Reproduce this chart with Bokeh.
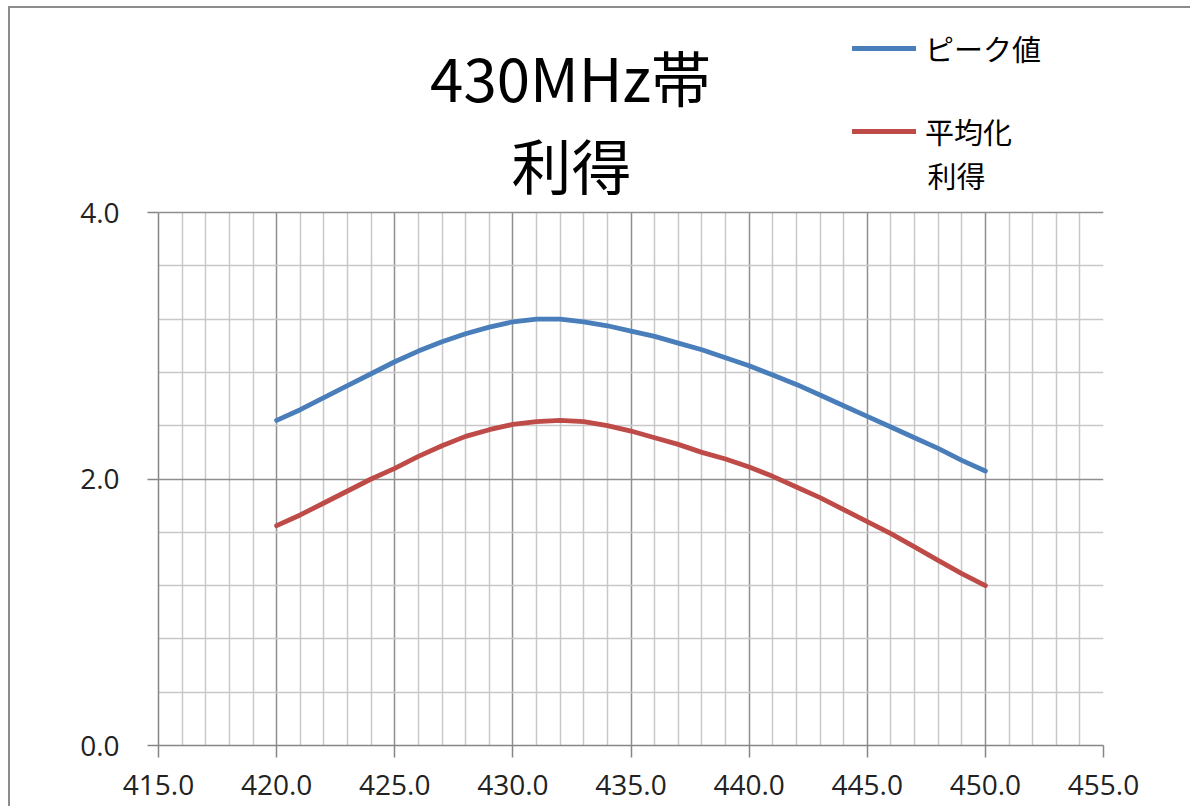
from bokeh.plotting import figure
from bokeh.models import Range1d, FixedTicker, NumeralTickFormatter, Legend, LegendItem, Label
from bokeh.embed import file_html
from bokeh.resources import INLINE

# ---- data ----
freq = [420, 421, 422, 423, 424, 425, 426, 427, 428, 429, 430,
        431, 432, 433, 434, 435, 436, 437, 438, 439, 440,
        441, 442, 443, 444, 445, 446, 447, 448, 449, 450]
peak = [2.44, 2.52, 2.61, 2.70, 2.79, 2.88, 2.96, 3.03, 3.09, 3.14, 3.18,
        3.20, 3.20, 3.18, 3.15, 3.11, 3.07, 3.02, 2.97, 2.91, 2.85,
        2.78, 2.71, 2.63, 2.55, 2.47, 2.39, 2.31, 2.23, 2.14, 2.06]
avg = [1.65, 1.73, 1.82, 1.91, 2.00, 2.08, 2.17, 2.25, 2.32, 2.37, 2.41,
       2.43, 2.44, 2.43, 2.40, 2.36, 2.31, 2.26, 2.20, 2.15, 2.09,
       2.02, 1.94, 1.86, 1.77, 1.68, 1.59, 1.49, 1.39, 1.29, 1.20]
x_major = [415, 420, 425, 430, 435, 440, 445, 450, 455]
x_minor = [v for v in range(415, 456) if v % 5 != 0]
y_major = [0.0, 2.0, 4.0]
y_minor = [0.4, 0.8, 1.2, 1.6, 2.4, 2.8, 3.2, 3.6]
title_lines = ["430MHz帯", "利得"]
series_names = ["ピーク値", "平均化", "利得"]

JP = "Noto Sans CJK JP"
BLUE = "#4a7ebb"
RED = "#be4b48"

# the value axis runs 0..4; the frame extends above it to hold title and legend
Y_TOP = 5.456

p = figure(width=1182, height=800,
           x_range=Range1d(415, 455), y_range=Range1d(0, Y_TOP),
           output_backend="svg", toolbar_location=None,
           min_border_left=148, min_border_right=89,
           min_border_top=10, min_border_bottom=63)
p.styles = {"border-left": "2px solid #8c8c8c", "border-top": "2px solid #8c8c8c",
            "margin-left": "8px", "margin-top": "6px"}
p.outline_line_color = None
p.background_fill_color = "white"
p.border_fill_color = "white"

p.xaxis.ticker = FixedTicker(ticks=x_major, minor_ticks=x_minor)
p.yaxis.ticker = FixedTicker(ticks=y_major, minor_ticks=y_minor)
p.yaxis.bounds = (0, 4)
for ax in (p.xaxis[0], p.yaxis[0]):
    ax.formatter = NumeralTickFormatter(format="0.0")
    ax.axis_line_color = "#868686"
    ax.axis_line_width = 1.5
    ax.major_tick_line_color = "#868686"
    ax.major_tick_line_width = 1.5
    ax.major_tick_in = 0
    ax.minor_tick_line_color = None
    ax.major_label_text_font = "Open Sans"
    ax.major_label_text_font_size = "28px"
    ax.major_label_text_color = "#222222"
p.xaxis.major_tick_out = 12
p.xaxis.major_label_standoff = 17
p.yaxis.major_tick_out = 11
p.yaxis.major_label_standoff = 28

for g in (p.xgrid[0], p.ygrid[0]):
    g.grid_line_color = "#8f8f8f"
    g.grid_line_width = 1.5
    g.minor_grid_line_color = "#c8c8c8"
    g.minor_grid_line_width = 1.5
p.xgrid.cross_bounds = (0, 4)

r1 = p.line(freq, peak, line_width=4.8, line_color=BLUE, line_cap="round", line_join="round")
r2 = p.line(freq, avg, line_width=4.8, line_color=RED, line_cap="round", line_join="round")

# title, two lines
p.add_layout(Label(x=432.44, y=5.03, text=title_lines[0], text_align="center",
                   text_baseline="alphabetic", text_font=JP, text_font_size="60px",
                   text_color="#000000"))
p.add_layout(Label(x=432.48, y=4.37, text=title_lines[1], text_align="center",
                   text_baseline="alphabetic", text_font=JP, text_font_size="60px",
                   text_color="#000000"))

# legend
legend = Legend(items=[LegendItem(label=series_names[0], renderers=[r1]),
                       LegendItem(label=series_names[1], renderers=[r2])],
                location=(694, 592), orientation="vertical", padding=0, margin=0,
                spacing=39, glyph_width=64, glyph_height=44, label_height=44,
                label_standoff=9, label_text_font=JP, label_text_font_size="29px",
                label_text_color="#000000",
                border_line_color=None, background_fill_alpha=0)
p.add_layout(legend, "center")
p.add_layout(Label(x=447.55, y=4.28, text=series_names[2], text_align="left",
                   text_baseline="middle", text_font=JP, text_font_size="29px",
                   text_color="#000000"))

open("out.html", "w").write(file_html(p, INLINE))
